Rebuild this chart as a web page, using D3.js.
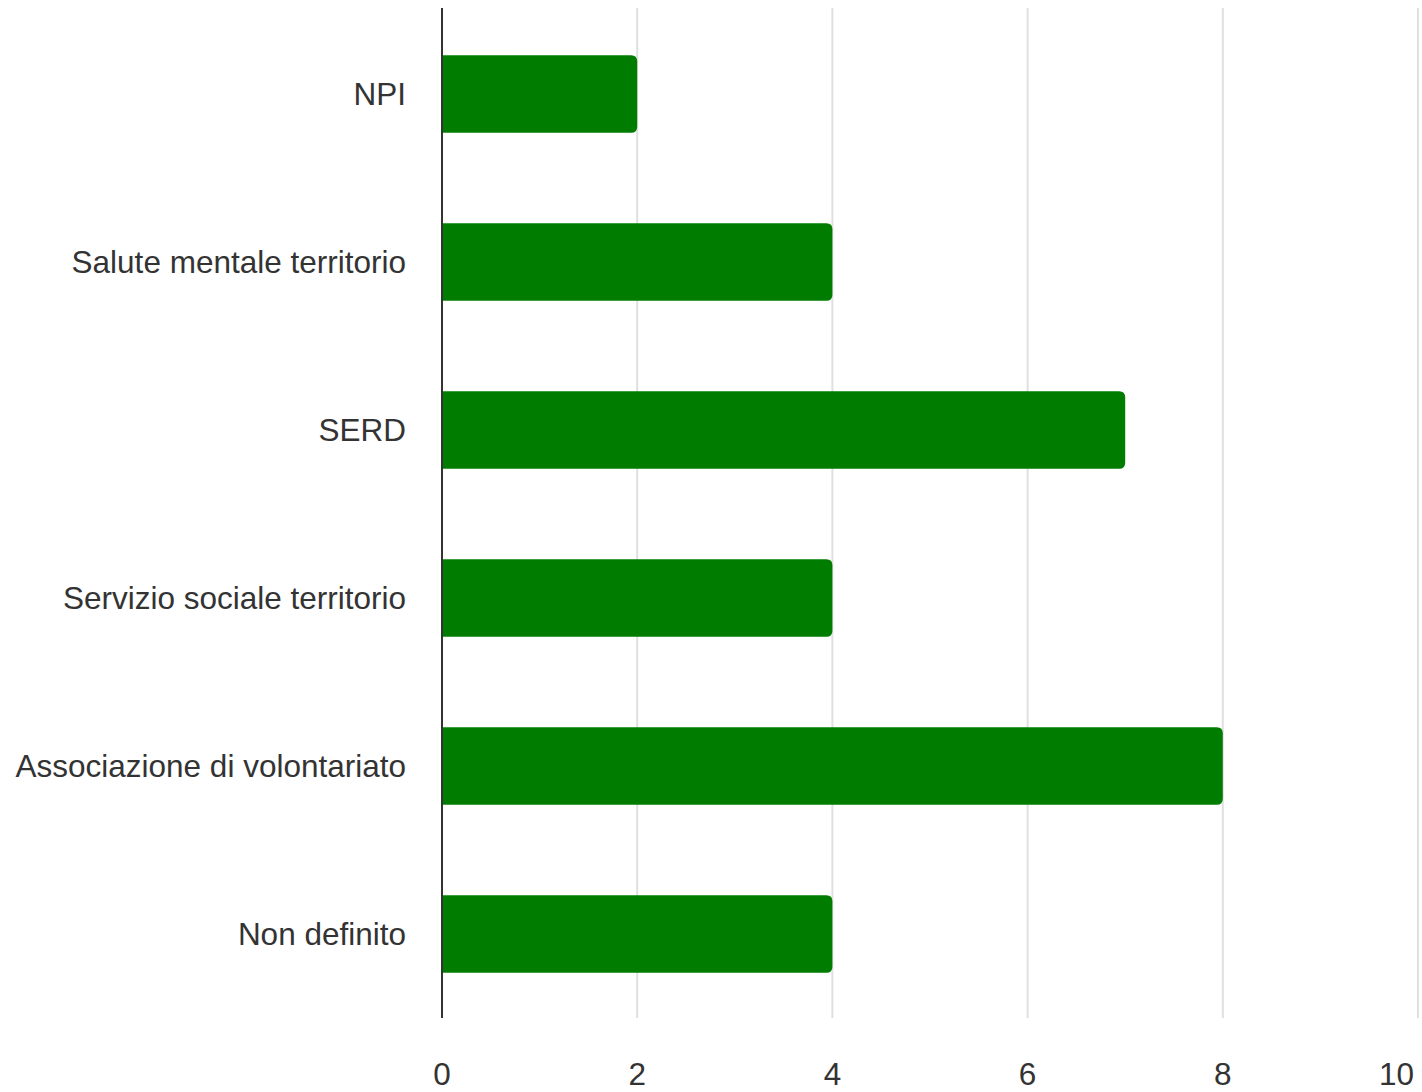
<!DOCTYPE html>
<html>
<head>
<meta charset="utf-8">
<script src="https://cdn.jsdelivr.net/npm/d3@7"></script>
<style>
  body { margin: 0; background: #fff; }
  svg text { font-family: "Liberation Sans", Arial, sans-serif; fill: #333; }
</style>
</head>
<body>
<svg id="chart" width="1422" height="1092"></svg>
<script>
// chart data
const categories = ['NPI', 'Salute mentale territorio', 'SERD', 'Servizio sociale territorio', 'Associazione di volontariato', 'Non definito'];
const values = [2, 4, 7, 4, 8, 4];
const xTicks = [0, 2, 4, 6, 8, 10];

const svg = d3.select('#chart');
const plotLeft = 442, plotRight = 1418, plotTop = 10, plotBottom = 1018;

const x = d3.scaleLinear().domain([0, 10]).range([plotLeft, plotRight]);
const y = d3.scaleBand()
    .domain(categories)
    .range([plotTop, plotBottom])
    .paddingInner(0.54)
    .paddingOuter(0.27);

// gridlines
svg.append('g')
    .selectAll('line')
    .data(xTicks.filter(d => d > 0))
    .join('line')
    .attr('x1', d => x(d)).attr('x2', d => x(d))
    .attr('y1', 8).attr('y2', plotBottom)
    .attr('stroke', '#e0e0e0')
    .attr('stroke-width', 2);

// bars with rounded right end only
const r = 6;
svg.append('g')
    .selectAll('path')
    .data(values)
    .join('path')
    .attr('fill', '#007c00')
    .attr('d', (d, i) => {
        const x0 = x(0), x1 = x(d);
        const y0 = y(categories[i]), h = y.bandwidth();
        return `M${x0},${y0}H${x1 - r}Q${x1},${y0} ${x1},${y0 + r}V${y0 + h - r}Q${x1},${y0 + h} ${x1 - r},${y0 + h}H${x0}Z`;
    });

// baseline axis
svg.append('line')
    .attr('x1', x(0)).attr('x2', x(0))
    .attr('y1', 8).attr('y2', plotBottom)
    .attr('stroke', '#333')
    .attr('stroke-width', 2);

// category labels
svg.append('g')
    .selectAll('text')
    .data(categories)
    .join('text')
    .attr('x', 406)
    .attr('y', d => y(d) + y.bandwidth() / 2)
    .attr('dy', '0.36em')
    .attr('text-anchor', 'end')
    .style('font-size', '31.5px')
    .text(d => d);

// x tick labels (last one kept inside the frame)
const lastTick = xTicks[xTicks.length - 1];
svg.append('g')
    .selectAll('text')
    .data(xTicks)
    .join('text')
    .attr('x', d => d === lastTick ? x(d) - 4 : x(d))
    .attr('y', 1085)
    .attr('text-anchor', d => d === lastTick ? 'end' : 'middle')
    .style('font-size', '31.5px')
    .text(d => d);
</script>
</body>
</html>
